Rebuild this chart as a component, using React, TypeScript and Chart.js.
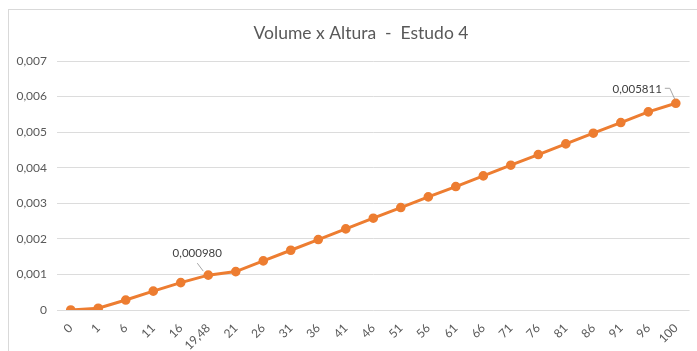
import React, { useEffect, useRef } from "react";
import { Chart, registerables } from "chart.js";

Chart.register(...registerables);

const titleText = "Volume x Altura  -  Estudo 4";
const categories = ["0", "1", "6", "11", "16", "19,48", "21", "26", "31", "36", "41", "46", "51", "56", "61", "66", "71", "76", "81", "86", "91", "96", "100"];
const volumes = [0, 0.00005, 0.00028, 0.00053, 0.00077, 0.00098, 0.00108, 0.00138, 0.00168, 0.00198, 0.00228, 0.00258, 0.00288, 0.00318, 0.00347, 0.00377, 0.00407, 0.00437, 0.00467, 0.00497, 0.00527, 0.00557, 0.005811];
const labelledIndices = [5, 22];
const labelTexts = ["0,000980", "0,005811"];
const yTickValues = [0, 0.001, 0.002, 0.003, 0.004, 0.005, 0.006, 0.007];

const FONT = "Lato, 'Open Sans', sans-serif";

const overlayPlugin = {
  id: "overlay",
  afterDraw(chart: any) {
    const ctx = chart.ctx;
    ctx.save();
    // title
    ctx.fillStyle = "#595959";
    ctx.font = `17.5px ${FONT}`;
    ctx.textAlign = "center";
    ctx.textBaseline = "middle";
    ctx.fillText(titleText, 361, 33);

    const meta = chart.getDatasetMeta(0);
    ctx.font = `11.5px ${FONT}`;
    ctx.strokeStyle = "#a6a6a6";
    ctx.lineWidth = 1;
    // label 1
    const p1 = meta.data[labelledIndices[0]];
    ctx.fillStyle = "#404040";
    ctx.textAlign = "center";
    ctx.fillText(labelTexts[0], p1.x - 11, p1.y - 22);
    ctx.beginPath();
    ctx.moveTo(p1.x - 11, p1.y - 12);
    ctx.lineTo(p1.x - 5, p1.y - 4);
    ctx.stroke();
    // label 2
    const p2 = meta.data[labelledIndices[1]];
    ctx.textAlign = "right";
    ctx.fillText(labelTexts[1], p2.x - 14, p2.y - 14);
    ctx.beginPath();
    ctx.moveTo(p2.x - 11, p2.y - 15);
    ctx.lineTo(p2.x - 6, p2.y - 15);
    ctx.lineTo(p2.x - 1, p2.y - 4);
    ctx.stroke();
    ctx.restore();
  },
};

export default function App() {
  const ref = useRef<HTMLCanvasElement>(null);
  useEffect(() => {
    if (!ref.current) return;
    const chart = new Chart(ref.current, {
      type: "line",
      data: {
        labels: categories,
        datasets: [
          {
            data: volumes,
            borderColor: "#ED7D31",
            backgroundColor: "#ED7D31",
            borderWidth: 3,
            pointRadius: 3.3,
            pointBackgroundColor: "#ED7D31",
            pointBorderColor: "#ED7D31",
            tension: 0,
          },
        ],
      },
      options: {
        responsive: false,
        animation: false,
        devicePixelRatio: 1,
        layout: { autoPadding: false, padding: { top: 61, right: 0, bottom: 0, left: 0 } },
        plugins: {
          legend: { display: false },
          title: { display: false },
          tooltip: { enabled: false },
        },
        scales: {
          x: {
            type: "category",
            offset: true,
            grid: { display: false, drawTicks: false },
            border: { display: false },
            ticks: {
              minRotation: 45,
              maxRotation: 45,
              autoSkip: false,
              color: "#595959",
              font: { family: FONT, size: 12 },
              padding: 11,
            },
            afterFit(scale: any) {
              scale.height = 41;
            },
          },
          y: {
            min: 0,
            max: 0.007,
            afterBuildTicks(scale: any) {
              scale.ticks = yTickValues.map((v) => ({ value: v }));
            },
            grid: { color: "#dcdcdc", drawTicks: false, lineWidth: 1 },
            border: { display: false },
            ticks: {
              color: "#595959",
              font: { family: FONT, size: 12 },
              padding: 10,
              callback: (v: any) => (Number(v) === 0 ? "0" : Number(v).toFixed(3).replace(".", ",")),
            },
            afterFit(scale: any) {
              scale.width = 57;
            },
          },
        },
      },
      plugins: [overlayPlugin],
    });
    return () => chart.destroy();
  }, []);

  return (
    <div style={{ position: "absolute", left: 0, top: 0, width: 697, height: 351, background: "#fff", overflow: "hidden" }}>
      <div
        style={{
          position: "absolute",
          left: 8,
          top: 9,
          width: 700,
          height: 360,
          borderLeft: "1px solid #d9d9d9",
          borderTop: "1px solid #d9d9d9",
        }}
      />
      <canvas ref={ref} width={697} height={351} style={{ position: "absolute", left: 0, top: 0, display: "block" }} />
    </div>
  );
}
